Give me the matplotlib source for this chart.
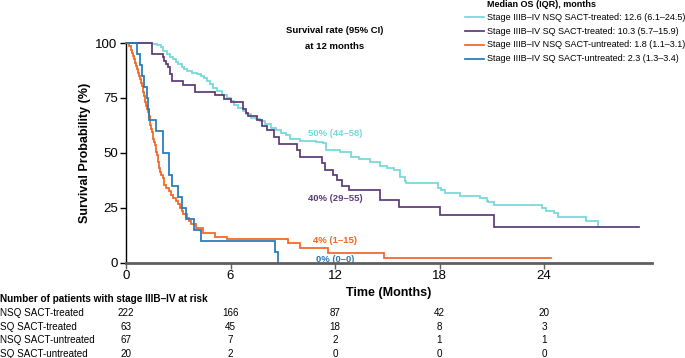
import matplotlib
matplotlib.use("Agg")
import matplotlib.pyplot as plt
from matplotlib.lines import Line2D
import matplotlib.transforms as mtransforms

plt.rcParams['font.family'] = ['Liberation Sans', 'DejaVu Sans']

# ---------------- data ----------------
# NSQ SACT-treated (step drops: time in months, new survival %)
nsq_t_time = [0, 1.47, 1.8, 2.0, 2.15, 2.35, 2.5, 2.7, 2.85, 3.0, 3.2, 3.35, 3.5, 3.8, 4.06,
              4.3, 4.5, 4.65, 4.8, 5.0, 5.2, 5.5, 5.8, 6.0, 6.2, 6.45, 6.7, 6.9, 7.2, 7.45,
              7.7, 8.0, 8.3, 8.6, 8.9, 9.2, 9.4, 10.0, 10.9, 11.3, 11.5, 12.3, 12.9, 13.4,
              14.0, 14.6, 15.0, 15.4, 15.75, 16.0, 16.1, 17.9, 18.1, 18.3, 19.2, 20.3, 20.7,
              20.8, 21.1, 23.9, 24.1, 24.6, 24.8, 26.4, 27.1, 27.15]
nsq_t_surv = [100, 99.5, 99, 98, 96.5, 95, 93.5, 92.5, 91.5, 90.3, 89, 88, 87.3, 86.5, 85.7,
              85, 84.2, 82.5, 81.2, 79.5, 78.2, 76.5, 75, 73.5, 72, 70.5, 69, 67.5, 66, 65.2,
              64.5, 63, 61.4, 60.2, 59.2, 58, 56.2, 55.5, 55, 54.5, 51.4, 50.6, 48.3, 47.2,
              46, 43.8, 43, 42.3, 39.2, 37, 36.5, 34, 33, 31.6, 30.4, 29.6, 28.3,
              27.5, 26.3, 25, 23.6, 22.8, 20.8, 19.2, 16.4, 16.4]

# SQ SACT-treated
sq_t_time = [0, 1.47, 2.1, 2.2, 2.3, 2.4, 2.5, 2.55, 2.62, 3.3, 3.97, 5.1, 5.6, 6.0, 6.74,
             6.9, 7.03, 7.5, 7.8, 8.1, 8.47, 8.76, 9.8, 10.0, 11.25, 11.4, 11.9, 12.1,
             12.4, 12.78, 14.6, 15.65, 18.05, 21.1, 29.45]
sq_t_surv = [100, 95.2, 93.6, 92, 90.5, 88.9, 87.3, 85.7, 82.5, 81, 77.8, 76.2, 74.6, 73, 69.8,
             68.2, 66.7, 65.1, 62, 60.3, 57.1, 54, 51.4, 48.3, 45.3, 42.3, 40, 37.7,
             35, 33.2, 28.6, 25.3, 21.9, 16.1, 16.1]

# NSQ SACT-untreated
nsq_u_time = [0, 0.2, 0.3, 0.35, 0.4, 0.45, 0.5, 0.55, 0.65, 0.7, 0.75, 0.8, 0.85, 0.9, 0.95,
              1.0, 1.05, 1.1, 1.15, 1.2, 1.25, 1.3, 1.35, 1.4, 1.45, 1.5, 1.55, 1.6, 1.65,
              1.7, 1.75, 1.8, 1.85, 1.9, 1.95, 2.0, 2.1, 2.2, 2.3, 2.45, 2.6, 2.7, 2.85,
              3.0, 3.1, 3.2, 3.3, 3.5, 3.6, 3.75, 4.0, 4.4, 5.1, 5.8, 9.3, 10.0, 11.6,
              14.8, 24.4]
nsq_u_surv = [100, 98.5, 97, 95.5, 94, 92.5, 91, 89.5, 88, 86.5, 85, 83.5, 82, 80.5, 79,
              77.5, 76, 73, 71.5, 70, 68.5, 67, 65.5, 62.5, 61, 59.5, 56.5, 55, 53.5,
              52, 50.5, 49, 46, 43, 41.5, 40, 38.5, 35.5, 34, 32.5, 31, 29.5, 28,
              26.5, 25, 23.5, 22, 20.5, 19, 17.5, 16, 13.7, 11.9, 10.7, 8.9, 6.5, 4.6,
              2.3, 2.3]

# SQ SACT-untreated
sq_u_time = [0, 0.65, 0.8, 0.94, 1.05, 1.19, 1.27, 1.34, 1.72, 2.1, 2.47, 2.62, 2.97, 3.2,
             3.43, 3.9, 4.31, 8.56, 8.72]
sq_u_surv = [100, 95, 90, 85, 80, 75, 70, 65, 60, 50, 40, 35, 30, 25,
             20, 15, 10, 5, 0]

series_names = ["Stage IIIB\u2013IV NSQ SACT-treated: 12.6 (6.1\u201324.5)",
                "Stage IIIB\u2013IV SQ SACT-treated: 10.3 (5.7\u201315.9)",
                "Stage IIIB\u2013IV NSQ SACT-untreated: 1.8 (1.1\u20133.1)",
                "Stage IIIB\u2013IV SQ SACT-untreated: 2.3 (1.3\u20133.4)"]
rate_labels = ["50% (44\u201358)", "40% (29\u201355)", "4% (1\u201315)", "0% (0\u20130)"]
rate_y = [59, 29, 10, 1.6]

risk_rows = ["NSQ SACT-treated", "SQ SACT-treated", "NSQ SACT-untreated", "SQ SACT-untreated"]
risk_times = [0, 6, 12, 18, 24]
risk_nsq_t = [222, 166, 87, 42, 20]
risk_sq_t = [63, 45, 18, 8, 3]
risk_nsq_u = [67, 7, 2, 1, 1]
risk_sq_u = [20, 2, 0, 0, 0]

colors = ["#74d8d8", "#5b3a78", "#f26522", "#2479b8"]

# ---------------- figure ----------------
W, H = 685, 358
fig = plt.figure(figsize=(W / 100, H / 100), dpi=100)
x0, x1, ytop, ybot = 126, 652, 43, 262.7
ax = fig.add_axes([x0 / W, 1 - ybot / H, (x1 - x0) / W, (ybot - ytop) / H])

series = [(nsq_t_time, nsq_t_surv), (sq_t_time, sq_t_surv),
          (nsq_u_time, nsq_u_surv), (sq_u_time, sq_u_surv)]
order = [2, 3, 1, 0]
for i in order:
    t, s = series[i]
    ax.step(t, s, where='post', color=colors[i], lw=1.25, clip_on=False, zorder=3 + i * 0.1,
            solid_joinstyle='miter')

ax.set_xlim(0, 30.2)
ax.set_ylim(0, 100)
ax.set_xticks(risk_times)
ax.set_yticks([0, 25, 50, 75, 100])
for sp in ['top', 'right']:
    ax.spines[sp].set_visible(False)
ax.spines['left'].set_color('black')
ax.spines['left'].set_linewidth(1.0)
ax.spines['bottom'].set_color('#5e5e5e')
ax.spines['bottom'].set_linewidth(2.0)
ax.spines['bottom'].set_zorder(5)
ax.tick_params(axis='y', length=4, width=1.0, color='black', labelsize=9.5, pad=2)
ax.tick_params(axis='x', length=4, width=1.0, color='#5e5e5e', labelsize=9.5, pad=1.5)
ax.set_ylabel("Survival Probability (%)", fontsize=9, fontweight='bold', labelpad=3)
ax.set_xlabel("Time (Months)", fontsize=9, fontweight='bold', labelpad=3)

# 12-month survival annotation
ax.text(12, 102, "Survival rate (95% CI)\nat 12 months", ha='center', va='center',
        fontsize=6.8, fontweight='bold', linespacing=1.9)
for i in range(4):
    ax.text(12, rate_y[i], rate_labels[i], ha='center', va='center', fontsize=6.8,
            fontweight='bold', color=colors[i])

# legend (manual)
fig.text(486.7 / W, 1 - 4.5 / H, "Median OS (IQR), months", fontsize=6.5,
         fontweight='bold', ha='left', va='center')
for i in range(4):
    yy = 1 - (17.3 + i * 13.8) / H
    fig.add_artist(Line2D([465 / W, 484 / W], [yy, yy], color=colors[i], lw=1.25,
                          transform=fig.transFigure))
    fig.text(487 / W, yy, series_names[i], fontsize=6.5, ha='left', va='center')

# risk table
fig.text(0.0, 1 - 298.5 / H, "Number of patients with stage IIIB\u2013IV at risk",
         fontsize=7.2, fontweight='bold', ha='left', va='center')
trans = mtransforms.blended_transform_factory(ax.transData, fig.transFigure)
risk_vals = [risk_nsq_t, risk_sq_t, risk_nsq_u, risk_sq_u]
for r in range(4):
    yy = 1 - (312.7 + r * 13.8) / H
    fig.text(0.0, yy, risk_rows[r], fontsize=7.1, ha='left', va='center')
    for tt, v in zip(risk_times, risk_vals[r]):
        ax.text(tt, yy, str(v), transform=trans, fontsize=7.1, ha='center', va='center',
                clip_on=False)

fig.savefig("out.png", dpi=100)
